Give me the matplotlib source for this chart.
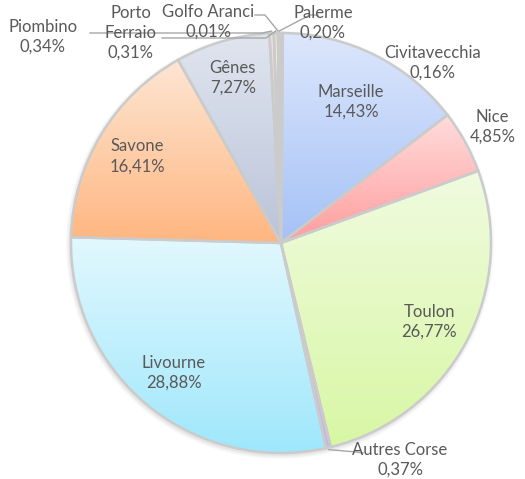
import numpy as np
import matplotlib.pyplot as plt
from matplotlib.colors import LinearSegmentedColormap
from matplotlib.patches import Circle

plt.rcParams['font.family'] = ['Lato', 'DejaVu Sans']

# data (clockwise from 12 o'clock)
ports = ['Palerme', 'Civitavecchia', 'Marseille', 'Nice', 'Toulon', 'Autres Corse',
         'Livourne', 'Savone', 'Gênes', 'Piombino', 'Porto\nFerraio', 'Golfo Aranci']
shares = [0.20, 0.16, 14.43, 4.85, 26.77, 0.37, 28.88, 16.41, 7.27, 0.34, 0.31, 0.01]

top_colors = ['#dff3ee', '#fbd8c6', '#dde7fc', '#ffdcdc', '#f0fbe0', '#ddd3f0',
              '#e2f8fe', '#fde6d4', '#e0e5ef', '#f3dcdc', '#e6f0dc', '#e3dcf0']
bottom_colors = ['#c8ebe2', '#f6b89a', '#a4c1f6', '#ff9d9d', '#d8f7a4', '#c5b4e6',
                 '#9fe7fc', '#ffb680', '#bac4d9', '#e9c1c1', '#d2e4bf', '#cfc2e6']

# label layout in pixels (image coords, y down)
W, H = 525, 479
cx, cy, R = 281, 243, 210
label_dist = {'Marseille': 0.75, 'Toulon': 0.80, 'Livourne': 0.80, 'Savone': 0.80,
              'Gênes': 0.82, 'Nice': 1.15}
manual_pos = {'Palerme': (323, 23), 'Civitavecchia': (433, 63), 'Autres Corse': (400, 460),
              'Piombino': (43, 37), 'Porto\nFerraio': (131, 33), 'Golfo Aranci': (208, 22)}
leaders = {'Palerme': [(318, 15), (310, 15)],
           'Golfo Aranci': [(255, 15), (265, 15)],
           'Piombino': [(90, 33), (262, 33)],
           'Porto\nFerraio': [(162, 38), (266, 38)],
           'Autres Corse': [(363, 453), (356, 452)]}

fig = plt.figure(figsize=(W / 100, H / 100), dpi=100)
ax = fig.add_axes([0, 0, 1, 1])
ax.axis('off')


def px(x, y):
    return x, H - y


center = px(cx, cy)

# soft shadow
for i, a in enumerate([0.05, 0.07, 0.09]):
    ax.add_patch(Circle((center[0] - 1, center[1] - 2), R + 4 - i * 1.5,
                        color='#808080', alpha=a, lw=0, zorder=0))

wedges, _ = ax.pie(shares, center=center, radius=R, startangle=90.8, counterclock=False,
                   explode=[0.012] * len(shares),
                   wedgeprops=dict(edgecolor='#cbcbcb', linewidth=1.8, zorder=3))

grad = np.linspace(0, 1, 256).reshape(-1, 1)
for w, c0, c1 in zip(wedges, top_colors, bottom_colors):
    w.set_facecolor('none')
    ext = w.get_path().get_extents()
    cmap = LinearSegmentedColormap.from_list('g', [c0, c1])
    im = ax.imshow(grad, cmap=cmap, extent=[ext.x0, ext.x1, ext.y0, ext.y1],
                   origin='upper', aspect='auto', zorder=2, interpolation='bilinear')
    im.set_clip_path(w)

ax.set_xlim(0, W)
ax.set_ylim(0, H)

text_kw = dict(ha='center', va='center', fontsize=12, color='#595959', linespacing=1.3, zorder=5)
cum = 0
for name, v, w in zip(ports, shares, wedges):
    mid = 90.8 - (cum + v / 2) * 3.6
    cum += v
    t = np.deg2rad(mid)
    label = f"{name}\n{v:.2f}".replace('.', ',') + '%'
    if name in manual_pos:
        x, y = px(*manual_pos[name])
    else:
        d = label_dist[name] * R
        x, y = center[0] + d * np.cos(t), center[1] + d * np.sin(t)
    ax.text(x, y, label, **text_kw)
    if name in leaders:
        edge = (center[0] + R * 1.01 * np.cos(t), center[1] + R * 1.01 * np.sin(t))
        pts = [px(*p) for p in leaders[name]] + [edge]
        xs, ys = zip(*pts)
        ax.plot(xs, ys, color='#a6a6a6', lw=1, zorder=4)

plt.savefig('out.png', dpi=100)
